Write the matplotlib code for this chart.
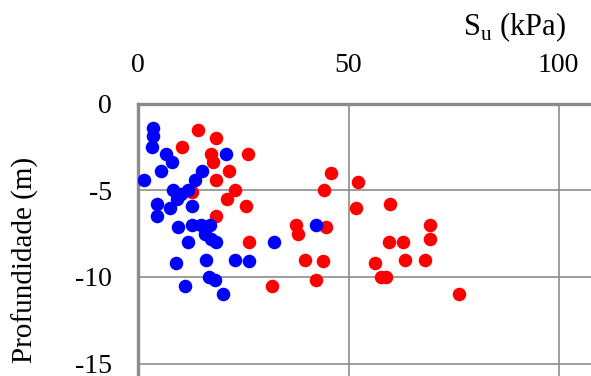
import matplotlib
matplotlib.use("Agg")
import matplotlib.pyplot as plt

plt.rcParams["font.family"] = ["Liberation Serif", "DejaVu Serif"]
plt.rcParams["mathtext.fontset"] = "custom"
plt.rcParams["mathtext.rm"] = "Liberation Serif"

# Undrained shear strength Su (kPa) vs depth (m), two data sets
su_red = [14.3, 18.4, 10.3, 17.3, 26.1, 17.7, 21.6, 18.5, 23.1, 21.0, 25.5, 12.7,
          18.5, 26.3, 31.7, 45.8, 52.3, 44.2, 51.9, 59.8, 37.5, 44.6, 38.0, 69.5,
          69.5, 59.6, 63.0, 39.6, 44.0, 56.2, 63.5, 68.3, 42.2, 57.7, 58.9, 76.4]
depth_red = [-1.5, -2.0, -2.5, -2.9, -2.9, -3.4, -3.9, -4.4, -5.0, -5.5, -5.9, -5.1,
             -6.5, -8.0, -10.5, -4.0, -4.5, -5.0, -6.0, -5.8, -7.0, -7.1, -7.5, -7.0,
             -7.8, -8.0, -8.0, -9.0, -9.1, -9.2, -9.0, -9.0, -10.2, -10.0, -10.0, -11.0]

su_blue = [3.4, 3.4, 3.2, 6.5, 7.9, 20.8, 5.4, 1.4, 15.2, 13.6, 11.9, 8.3, 10.2,
           9.1, 4.4, 7.5, 12.8, 4.4, 9.5, 12.8, 14.8, 17.0, 15.8, 17.4, 18.4,
           11.9, 32.2, 8.9, 16.0, 23.0, 26.3, 16.8, 18.2, 11.1, 20.2, 42.2]
depth_blue = [-1.4, -1.9, -2.5, -2.9, -3.4, -2.9, -3.9, -4.4, -3.9, -4.4, -5.0, -5.0, -5.2,
              -5.5, -5.8, -6.0, -5.9, -6.5, -7.1, -7.0, -7.0, -7.0, -7.5, -7.8, -8.0,
              -8.0, -8.0, -9.2, -9.0, -9.0, -9.1, -10.0, -10.2, -10.5, -11.0, -7.0]

x_ticks = [0, 50, 100]
y_ticks = [0, -5, -10, -15]

W, H = 591, 376
fig = plt.figure(figsize=(W / 100, H / 100), dpi=100)

x0, y0 = 138.3, 103.5
px_x, px_y = 4.204, 17.35
xmax, ymin = 110, -20
ax = fig.add_axes([x0 / W, 1 - (y0 + -ymin * px_y) / H, xmax * px_x / W, -ymin * px_y / H])

ax.scatter(su_red, depth_red, s=95, color="#ff0000", linewidths=0, zorder=3)
ax.scatter(su_blue, depth_blue, s=95, color="#0000ff", linewidths=0, zorder=4)

ax.set_xlim(0, xmax)
ax.set_ylim(ymin, 0)
ax.set_xticks(x_ticks)
ax.set_yticks(y_ticks)
ax.set_yticklabels([str(v) for v in y_ticks])
ax.xaxis.tick_top()
ax.tick_params(axis="both", length=0, labelsize=20, colors="black")
ax.tick_params(axis="x", pad=18)
ax.tick_params(axis="y", pad=19)

ax.grid(True, color="#8c8c8c", linewidth=1.2)
ax.set_axisbelow(True)
for side in ("right", "bottom"):
    ax.spines[side].set_visible(False)
for side in ("left", "top"):
    ax.spines[side].set_color("#8c8c8c")
    ax.spines[side].set_linewidth(2.4)

fig.text(515 / W, 1 - 27 / H, r"S$_\mathrm{u}$ (kPa)", fontsize=22,
         ha="center", va="center")
fig.text(25 / W, 1 - 260 / H, "Profundidade (m)", fontsize=21,
         rotation=90, ha="center", va="center")

fig.savefig("out.png", dpi=100)
